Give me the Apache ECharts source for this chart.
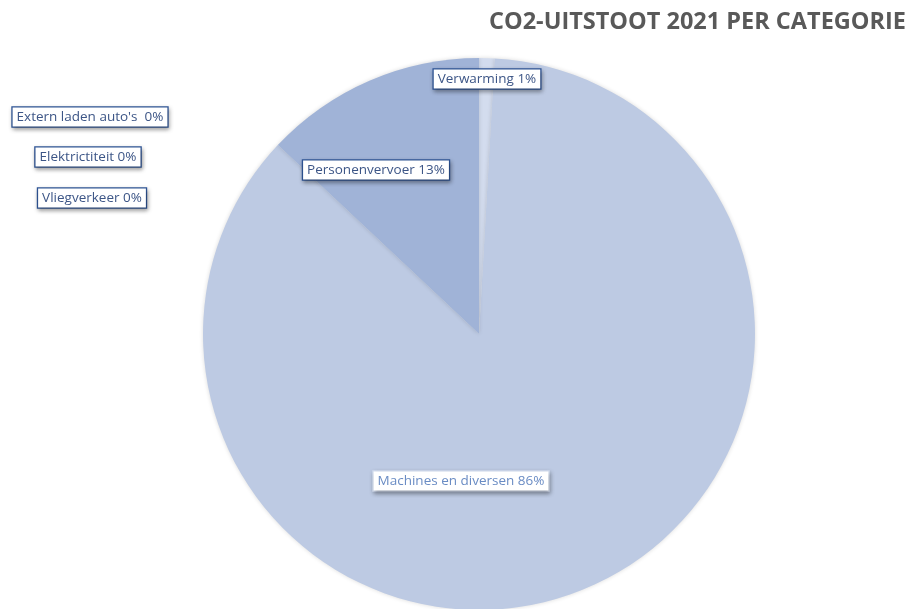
<!DOCTYPE html>
<html>
<head>
<meta charset="utf-8">
<script src="https://cdn.jsdelivr.net/npm/echarts@6/dist/echarts.min.js"></script>
<style>html,body{margin:0;padding:0;background:#fff;}#c{width:916px;height:609px;}</style>
</head>
<body>
<div id="c"></div>
<script>
var titleText = 'CO2-UITSTOOT 2021 PER CATEGORIE';
var categories = ["Extern laden auto's ", 'Elektrictiteit', 'Vliegverkeer', 'Verwarming', 'Machines en diversen', 'Personenvervoer'];
var values = [0, 0, 0, 0.9, 86.1, 13.0];
var colors = ['#9fb3d7', '#b0c1df', '#c4d1e8', '#d3dcee', '#bdcae3', '#a0b3d7'];
// label centre positions (layout only), same order as categories
var labelPos = [[90, 117], [88, 157], [92, 198], [487, 79], [461, 481], [376, 170]];

var chart = echarts.init(document.getElementById('c'));
var data = categories.map(function (n, i) {
  var light = (n === 'Machines en diversen');
  return {
    name: n, value: values[i],
    itemStyle: { color: colors[i] },
    label: light ? { color: '#6a8cc4', borderColor: '#d3ddef' } : {}
  };
});
chart.setOption({
  animation: false,
  title: {
    text: titleText, right: 5, top: 5,
    textStyle: { fontFamily: 'Open Sans', fontWeight: 'bold', fontSize: 23.5, color: '#595959' }
  },
  series: [{
    type: 'pie',
    center: [479, 334],
    radius: 276,
    startAngle: 90,
    clockwise: true,
    minShowLabelAngle: 0,
    stillShowZeroSum: true,
    data: data,
    itemStyle: { borderWidth: 0, shadowBlur: 4, shadowColor: 'rgba(0,0,0,0.15)' },
    labelLine: { show: false },
    label: {
      show: true,
      position: 'inside',
      formatter: function (p) { return p.name + ' ' + Math.round(p.value) + '%'; },
      fontFamily: 'Open Sans', fontSize: 13.5, color: '#3c5586',
      backgroundColor: '#ffffff', borderColor: '#2f5597', borderWidth: 1.3,
      padding: [3, 4, 2, 4],
      shadowBlur: 4, shadowColor: 'rgba(0,0,0,0.3)', shadowOffsetX: 1, shadowOffsetY: 2
    },
    labelLayout: function (p) {
      var pos = labelPos[p.dataIndex];
      return { x: pos[0], y: pos[1], align: 'center', verticalAlign: 'middle' };
    }
  }]
});
</script>
</body>
</html>
